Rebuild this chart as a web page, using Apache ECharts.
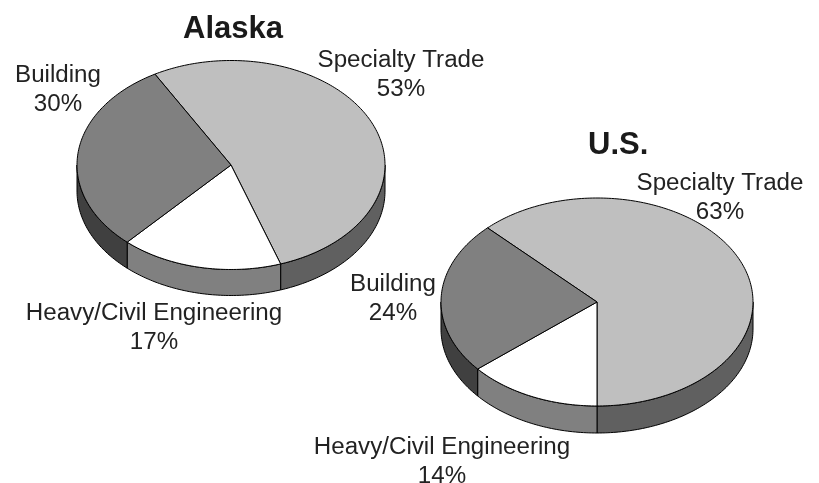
<!DOCTYPE html>
<html><head><meta charset="utf-8">
<style>html,body{margin:0;padding:0;background:#fff}#c{width:819px;height:483px}</style>
<script src="https://cdn.jsdelivr.net/npm/echarts@6/dist/echarts.min.js"></script>
</head><body><div id="c"></div>
<script>
const categories = ['Specialty Trade', 'Heavy/Civil Engineering', 'Building'];
const alaskaValues = [53, 17, 30];
const usValues = [63, 14, 24];
const pieNames = ['Alaska', 'U.S.'];

const topColors = ['#bfbfbf', '#ffffff', '#808080'];
const wallColors = ['#606060', '#808080', '#404040'];
const FONT = '"Liberation Sans", Arial, sans-serif';

function pieSeries(values, geo) {
  const total = values.reduce((a, b) => a + b, 0);
  const spans = [];
  let acc = geo.start;
  values.forEach(v => { const s = v / total * 360; spans.push([acc, acc + s]); acc += s; });
  const pt = (deg, dz) => {
    const r = deg * Math.PI / 180;
    return [geo.cx + geo.rx * Math.sin(r), geo.cy - geo.ry * Math.cos(r) + dz];
  };
  const arc = (a, b, dz) => {
    const n = Math.max(2, Math.ceil(Math.abs(b - a) / 1));
    const out = [];
    for (let i = 0; i <= n; i++) out.push(pt(a + (b - a) * i / n, dz));
    return out;
  };
  return {
    type: 'custom',
    coordinateSystem: 'none',
    silent: true,
    clip: false,
    data: values.map((v, i) => ({ value: v, name: categories[i] })),
    renderItem(params) {
      const i = params.dataIndex;
      const [a, b] = spans[i];
      const children = [];
      [0, 360, -360].forEach(off => {
        const lo = Math.max(a + off, 90), hi = Math.min(b + off, 270);
        if (hi > lo) {
          children.push({
            type: 'polygon',
            z2: 1,
            shape: { points: arc(lo, hi, 0).concat(arc(hi, lo, geo.depth)) },
            style: { fill: wallColors[i], stroke: '#000', lineWidth: 1 }
          });
        }
      });
      children.push({
        type: 'polygon',
        z2: 2,
        shape: { points: [[geo.cx, geo.cy]].concat(arc(a, b, 0)) },
        style: { fill: topColors[i], stroke: '#000', lineWidth: 1, lineJoin: 'round' }
      });
      return { type: 'group', children };
    }
  };
}

const alaskaGeo = { cx: 231, cy: 165, rx: 154, ry: 104.5, depth: 26, start: -29.6 };
const usGeo = { cx: 597, cy: 302, rx: 156, ry: 104, depth: 27, start: 180 - 63 / 101 * 360 };

const labelStyle = { fontFamily: FONT, fontSize: 23, fill: '#222', align: 'center', lineHeight: 29 };
const label = (cx, top, text) => ({
  type: 'text', x: cx, y: top, z: 10, scaleX: 1.05,
  style: Object.assign({ text }, labelStyle)
});
const lbl = (name, v) => name + '\n' + v + '%';

const chart = echarts.init(document.getElementById('c'), null, { renderer: 'canvas' });
chart.setOption({
  animation: false,
  backgroundColor: '#fff',
  title: [
    { text: pieNames[0], left: 178, top: 9, textStyle: { fontFamily: FONT, fontSize: 31, fontWeight: 'bold', color: '#1a1a1a' } },
    { text: pieNames[1], left: 583, top: 125, textStyle: { fontFamily: FONT, fontSize: 31, fontWeight: 'bold', color: '#1a1a1a' } }
  ],
  series: [pieSeries(alaskaValues, alaskaGeo), pieSeries(usValues, usGeo)],
  graphic: [
    label(401, 46, lbl(categories[0], alaskaValues[0])),
    label(58, 61, lbl(categories[2], alaskaValues[2])),
    label(154, 299, lbl(categories[1], alaskaValues[1])),
    label(720, 169, lbl(categories[0], usValues[0])),
    label(393, 270, lbl(categories[2], usValues[2])),
    label(442, 433, lbl(categories[1], usValues[1]))
  ]
});
</script></body></html>
